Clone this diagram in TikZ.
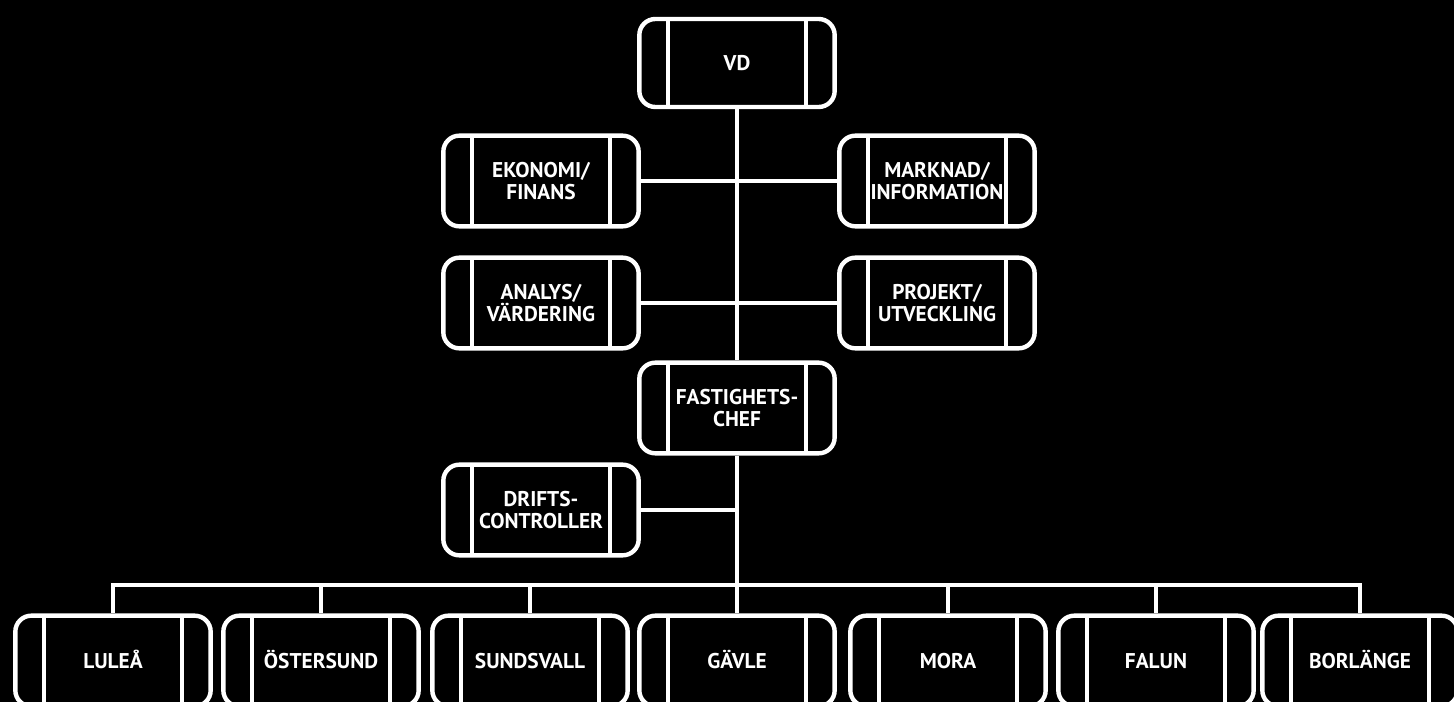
\documentclass[tikz,border=0pt]{standalone}
\usepackage{fontspec}
\setmainfont{PT Sans}
\usetikzlibrary{positioning}
\definecolor{OrgBg}{HTML}{000000}
\definecolor{OrgLine}{HTML}{FFFFFF}
\tikzset{
  tie/.style={OrgLine,line width=3.3pt},
  unit/.style={draw=OrgLine,line width=3.3pt,rounded corners=12pt,
               minimum width=146.5pt,minimum height=68pt,inner sep=0pt,
               text=OrgLine,font=\fontsize{16}{16.5}\selectfont\bfseries,align=center,
               path picture={\draw[tie]
                 ([xshift=21.5pt]path picture bounding box.north west)--([xshift=21.5pt]path picture bounding box.south west)
                 ([xshift=-21.5pt]path picture bounding box.north east)--([xshift=-21.5pt]path picture bounding box.south east);}},
  oneline/.style={unit,align=none,text height=11.3pt,text depth=0pt},
}

\begin{document}
\begin{tikzpicture}[x=.75pt,y=-.75pt]
    \fill[OrgBg] (0,0) rectangle (1454,702);
    \useasboundingbox (0,0) rectangle (1454,702);
    \clip (0,0) rectangle (1454,702);

    \node[oneline,minimum height=66pt] (vd) at (737,63) {VD};
    \node[unit] (ekonomi) at (541,181) {EKONOMI/\\FINANS};
    \node[unit] (marknad) at (937,181) {MARKNAD/\\INFORMATION};
    \node[unit] (analys) at (541,303) {ANALYS/\\VÄRDERING};
    \node[unit] (projekt) at (937,303) {PROJEKT/\\UTVECKLING};
    \node[unit] (fastchef) at (737,408) {FASTIGHETS-\\CHEF};
    \node[unit] (drifts) at (541,510) {DRIFTS-\\CONTROLLER};
    \coordinate (bus) at (737,585);

    \draw[tie] (vd.south)--(fastchef.north);
    \draw[tie] (ekonomi.east)--(marknad.west);
    \draw[tie] (analys.east)--(projekt.west);
    \draw[tie] (drifts.east)--(drifts.east -| fastchef.south);
    \draw[tie] (fastchef.south)--(bus);

    \foreach \x/\nm/\txt in {113/lulea/LULEÅ,321/ostersund/ÖSTERSUND,530/sundsvall/SUNDSVALL,
                             737/gavle/GÄVLE,948/mora/MORA,1156/falun/FALUN,1360/borlange/BORLÄNGE}{
      \node[oneline] (\nm) at (\x,661) {\txt};
      \draw[tie] (bus) -| (\nm.north);
    }
  \end{tikzpicture}
\end{document}
